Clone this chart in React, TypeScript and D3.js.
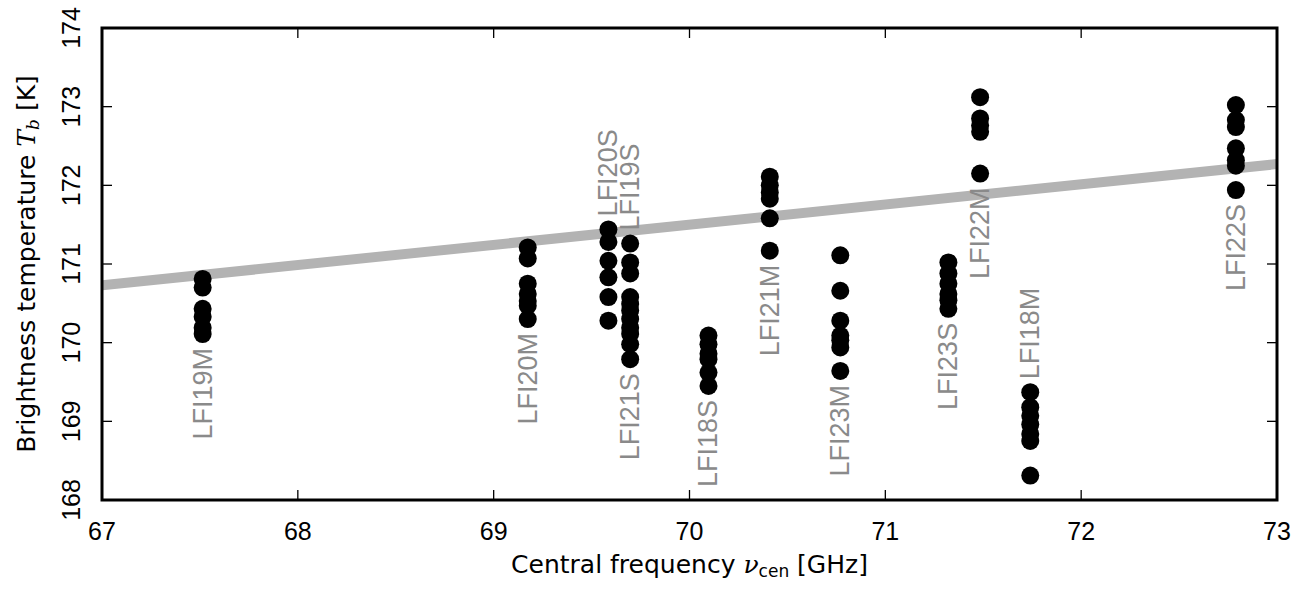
import { useEffect, useRef } from "react";
import * as d3 from "d3";

const WIDTH = 1311;
const HEIGHT = 590;

// detector name, central frequency [GHz], brightness temperature samples [K]
const detectorNames = [
  "LFI19M", "LFI20M", "LFI20S", "LFI19S", "LFI21S", "LFI18S",
  "LFI21M", "LFI23M", "LFI23S", "LFI22M", "LFI18M", "LFI22S",
];
const detectorFreqs = [
  67.514, 69.174, 69.586, 69.697, 69.697, 70.097,
  70.41, 70.77, 71.322, 71.484, 71.74, 72.79,
];
const detectorTemps = [
  [170.81, 170.7, 170.43, 170.33, 170.19, 170.11],
  [171.21, 171.07, 170.75, 170.62, 170.53, 170.47, 170.3],
  [171.44, 171.28, 171.04, 170.83, 170.58, 170.28],
  [171.26, 171.02, 170.88, 170.58, 170.49],
  [170.41, 170.3, 170.19, 170.11, 169.98, 169.79],
  [170.09, 169.98, 169.86, 169.79, 169.62, 169.45],
  [172.11, 172.0, 171.91, 171.83, 171.58, 171.17],
  [171.11, 170.66, 170.28, 170.09, 170.03, 169.94, 169.64],
  [171.02, 170.88, 170.75, 170.62, 170.54, 170.43],
  [173.12, 172.85, 172.76, 172.68, 172.15],
  [169.37, 169.18, 169.07, 168.96, 168.84, 168.75, 168.31],
  [173.02, 172.83, 172.74, 172.47, 172.32, 172.25, 171.94],
];
// where the name sits relative to its column of points
const labelSide = [
  "below", "below", "above", "above", "below", "below",
  "below", "below", "below", "below", "above", "below",
];

// linear fit drawn as a thick grey band
const fitFreq = [67, 73];
const fitTemp = [170.73, 172.27];

const xTicks = [67, 68, 69, 70, 71, 72, 73];
const yTicks = [168, 169, 170, 171, 172, 173, 174];

const FONT = "'Liberation Sans', Arial, sans-serif";
const LABEL_FONT = "'DejaVu Sans', sans-serif";

export default function App() {
  const svgRef = useRef<SVGSVGElement>(null);

  useEffect(() => {
    const svgEl = svgRef.current;
    if (!svgEl) return;
    const svg = d3.select(svgEl);
    svg.selectAll("*").remove();

    const m = { left: 102, right: 1277, top: 28, bottom: 500 };
    const x = d3.scaleLinear().domain([67, 73]).range([m.left, m.right]);
    const y = d3.scaleLinear().domain([168, 174]).range([m.bottom, m.top]);
    const r = 9;

    svg.append("rect").attr("width", WIDTH).attr("height", HEIGHT).attr("fill", "#fff");

    svg
      .append("clipPath")
      .attr("id", "plot-clip")
      .append("rect")
      .attr("x", m.left)
      .attr("y", m.top)
      .attr("width", m.right - m.left)
      .attr("height", m.bottom - m.top);

    const plot = svg.append("g").attr("clip-path", "url(#plot-clip)");

    const fitLine = d3
      .line<number>()
      .x((_d, i) => x(fitFreq[i]))
      .y((d) => y(d));
    plot
      .append("path")
      .attr("d", fitLine(fitTemp))
      .attr("fill", "none")
      .attr("stroke", "#b3b3b3")
      .attr("stroke-width", 10);

    const points = detectorTemps.flatMap((temps, i) =>
      temps.map((t) => ({ f: detectorFreqs[i], t })),
    );
    plot
      .selectAll("circle.pt")
      .data(points)
      .join("circle")
      .attr("class", "pt")
      .attr("cx", (d) => x(d.f))
      .attr("cy", (d) => y(d.t))
      .attr("r", r)
      .attr("fill", "#000");

    // detector names, rotated
    const labels = detectorNames.map((name, i) => {
      const temps = detectorTemps[i];
      const side = labelSide[i];
      const py = side === "below" ? y(d3.min(temps) as number) + r + 5 : y(d3.max(temps) as number) - r - 4;
      return { name, px: x(detectorFreqs[i]), py, side };
    });
    svg
      .selectAll("text.det")
      .data(labels)
      .join("text")
      .attr("class", "det")
      .attr("transform", (d) => `translate(${d.px + 9},${d.py}) rotate(-90)`)
      .attr("text-anchor", (d) => (d.side === "below" ? "end" : "start"))
      .attr("font-family", FONT)
      .attr("font-size", 27)
      .attr("fill", "#8a8a8a")
      .text((d) => d.name);

    // ticks, inward on all four sides
    const ticks = svg.append("g").attr("stroke", "#000").attr("stroke-width", 1.3);
    const tl = 10;
    xTicks.forEach((v) => {
      ticks.append("line").attr("x1", x(v)).attr("x2", x(v)).attr("y1", m.bottom).attr("y2", m.bottom - tl);
      ticks.append("line").attr("x1", x(v)).attr("x2", x(v)).attr("y1", m.top).attr("y2", m.top + tl);
    });
    yTicks.forEach((v) => {
      ticks.append("line").attr("x1", m.left).attr("x2", m.left + tl).attr("y1", y(v)).attr("y2", y(v));
      ticks.append("line").attr("x1", m.right).attr("x2", m.right - tl).attr("y1", y(v)).attr("y2", y(v));
    });

    svg
      .append("rect")
      .attr("x", m.left)
      .attr("y", m.top)
      .attr("width", m.right - m.left)
      .attr("height", m.bottom - m.top)
      .attr("fill", "none")
      .attr("stroke", "#000")
      .attr("stroke-width", 3);

    svg
      .selectAll("text.xt")
      .data(xTicks)
      .join("text")
      .attr("class", "xt")
      .attr("x", (d) => x(d))
      .attr("y", 540)
      .attr("text-anchor", "middle")
      .attr("font-family", FONT)
      .attr("font-size", 25)
      .attr("fill", "#000")
      .text((d) => d);

    svg
      .selectAll("text.yt")
      .data(yTicks)
      .join("text")
      .attr("class", "yt")
      .attr("transform", (d) => `translate(80,${y(d)}) rotate(-90)`)
      .attr("text-anchor", "middle")
      .attr("font-family", FONT)
      .attr("font-size", 25)
      .attr("fill", "#000")
      .text((d) => d);

    const xl = svg
      .append("text")
      .attr("x", (m.left + m.right) / 2)
      .attr("y", 573)
      .attr("text-anchor", "middle")
      .attr("font-family", LABEL_FONT)
      .attr("font-size", 25)
      .attr("fill", "#000");
    xl.append("tspan").text("Central frequency ");
    xl.append("tspan").attr("font-family", "'DejaVu Serif', serif").attr("font-style", "italic").text("ν");
    xl.append("tspan").attr("font-size", 17).attr("dy", 4).text("cen");
    xl.append("tspan").attr("dy", -4).text(" [GHz]");

    const yl = svg
      .append("text")
      .attr("transform", `translate(35,${(m.top + m.bottom) / 2}) rotate(-90)`)
      .attr("text-anchor", "middle")
      .attr("font-family", LABEL_FONT)
      .attr("font-size", 25)
      .attr("fill", "#000");
    yl.append("tspan").text("Brightness temperature ");
    yl.append("tspan").attr("font-family", "'DejaVu Serif', serif").attr("font-style", "italic").text("T");
    yl.append("tspan").attr("font-family", "'DejaVu Serif', serif").attr("font-style", "italic").attr("font-size", 17).attr("dy", 4).text("b");
    yl.append("tspan").attr("dy", -4).text(" [K]");
  }, []);

  return (
    <div style={{ position: "absolute", left: 0, top: 0 }}>
      <svg ref={svgRef} width={WIDTH} height={HEIGHT} style={{ display: "block" }} />
    </div>
  );
}
